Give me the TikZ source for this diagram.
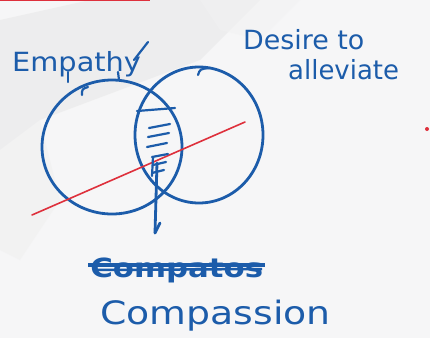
\documentclass[tikz,border=0pt]{standalone}
\usepackage{fontspec}
\setmainfont{DejaVu Sans}
\usetikzlibrary{arrows.meta,shapes.geometric}
\definecolor{ink}{RGB}{28,92,170}
\definecolor{redink}{RGB}{222,48,60}
\definecolor{paper}{RGB}{246,246,247}
\tikzset{
  pen/.style={draw=ink,line width=2.8pt,line cap=round,line join=round},
  thinpen/.style={draw=ink,line width=2.2pt,line cap=round},
  redpen/.style={draw=redink,line width=1.6pt,line cap=round},
  hand/.style={text=ink,inner sep=0pt,anchor=west},
}
\begin{document}
\begin{tikzpicture}[x=1pt,y=-1pt]
\useasboundingbox (0,0) rectangle (430,338);
% paper
\fill[paper] (0,0) rectangle (430,338);
\fill[gray!18,opacity=0.6] (0,20) -- (90,0) -- (260,0) -- (200,60) -- (120,90) -- (40,120) -- (0,150) -- cycle;
\fill[gray!12,opacity=0.6] (0,150) -- (40,120) -- (60,200) -- (20,260) -- (0,250) -- cycle;
\fill[gray!10,opacity=0.5] (200,0) -- (300,0) -- (260,40) -- (220,30) -- cycle;
\draw[redink,line width=1.2pt] (0,0.8) -- (150,0.8);
% circles
\node[pen,ellipse,minimum width=140pt,minimum height=134pt,inner sep=0pt] (L) at (112,147) {};
\node[pen,ellipse,minimum width=128pt,minimum height=136pt,inner sep=0pt] (R) at (199,135) {};
% red line
\coordinate (r1) at (32,215);
\coordinate (r2) at (245,122);
\draw[redpen] (r1) -- (r2);
\coordinate (rd) at (427,129);
\fill[redink] (rd) circle (2pt);
% hatching in lens
\draw[thinpen] (137,111) -- (175,108);
\draw[thinpen] (149,128) -- (170,124);
\draw[thinpen] (148,137) -- (169,133);
\draw[thinpen] (147,147) -- (167,143);
\draw[thinpen] (152,157) -- (168,154);
\draw[thinpen] (153,157) -- (152,176);
\draw[thinpen] (153,165) -- (166,162);
\draw[thinpen] (152,173) -- (164,170);
% arrow
\coordinate (a1) at (157,163);
\coordinate (a2) at (155,233);
\draw[pen] (a1) -- (a2);
\draw[pen] (a2) -- (160,223);
% Empathy
\node[hand,font=\fontsize{24}{24}\selectfont,xscale=1.2,yscale=1.1] (emp) at (12,64) {Empathy};
\coordinate (t1) at (134,60);
\coordinate (t2) at (148,42);
\draw[thinpen] (t1) -- (t2);
\draw[thinpen] (68,72) -- (68,82);
\draw[thinpen] (118,72) -- (119,80);
\draw[thinpen] (82,95) .. controls (82,89) .. (88,87);
\draw[thinpen] (198,75) .. controls (200,69) .. (210,68);
% Desire to alleviate
\node[hand,font=\fontsize{24}{24}\selectfont,xscale=1.12,yscale=1.1] (des) at (243,40) {Desire to};
\node[hand,font=\fontsize{24}{24}\selectfont,xscale=1.08,yscale=1.1] (all) at (288,70) {alleviate};
% struck-out word
\node[hand,font=\bfseries\fontsize{22}{22}\selectfont,xscale=1.4,yscale=1.2] (cr) at (90,270) {Compatos};
\draw[ink,line width=4pt] (88,265) -- (265,265);
\draw[ink,line width=2.5pt] (95,270) -- (262,269);
% Compassion
\node[hand,font=\fontsize{28}{28}\selectfont,xscale=1.35,yscale=1.15] (comp) at (100,316) {Compassion};
\end{tikzpicture}
\end{document}
